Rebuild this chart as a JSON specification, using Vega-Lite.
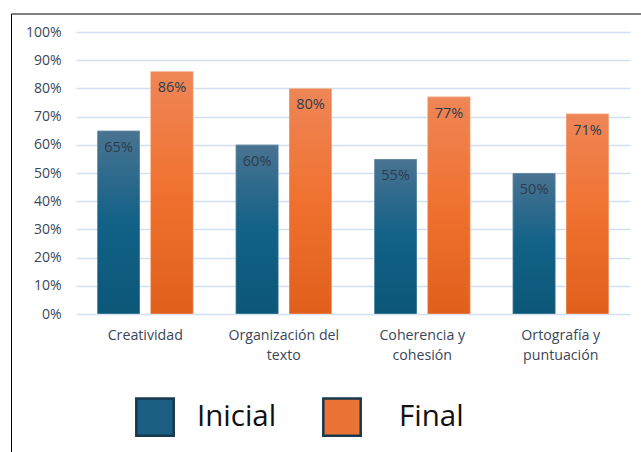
{
  "$schema": "https://vega.github.io/schema/vega-lite/v6.json",
  "width": 554,
  "height": 282,
  "autosize": "none",
  "padding": {"left": 76, "top": 32, "right": 11, "bottom": 138},
  "background": "white",
  "config": {
    "view": {"stroke": null},
    "font": "Open Sans"
  },
  "data": {
    "values": [
      {"criterio": "Creatividad", "momento": "Inicial", "valor": 0.65},
      {"criterio": "Creatividad", "momento": "Final", "valor": 0.86},
      {"criterio": "Organización del texto", "momento": "Inicial", "valor": 0.60},
      {"criterio": "Organización del texto", "momento": "Final", "valor": 0.80},
      {"criterio": "Coherencia y cohesión", "momento": "Inicial", "valor": 0.55},
      {"criterio": "Coherencia y cohesión", "momento": "Final", "valor": 0.77},
      {"criterio": "Ortografía y puntuación", "momento": "Inicial", "valor": 0.50},
      {"criterio": "Ortografía y puntuación", "momento": "Final", "valor": 0.71}
    ]
  },
  "encoding": {
    "x": {
      "field": "criterio",
      "type": "nominal",
      "sort": null,
      "scale": {"paddingInner": 0.307, "paddingOuter": 0.1535},
      "axis": {
        "title": null,
        "labelAngle": 0,
        "labelFont": "Open Sans",
        "labelFontSize": 14.2,
        "labelColor": "#3a4658",
        "labelPadding": 14,
        "labelLineHeight": 20.5,
        "ticks": false,
        "domain": false,
        "grid": false,
        "labelExpr": "lastindexof(datum.label, ' ') > 0 ? [substring(datum.label, 0, lastindexof(datum.label, ' ')), substring(datum.label, lastindexof(datum.label, ' ') + 1)] : datum.label"
      }
    },
    "xOffset": {
      "field": "momento",
      "type": "nominal",
      "sort": ["Inicial", "Final"],
      "scale": {"paddingInner": 0.2, "paddingOuter": 0}
    },
    "y": {
      "field": "valor",
      "type": "quantitative",
      "scale": {"domain": [0, 1], "nice": false},
      "axis": {
        "title": null,
        "format": ".0%",
        "values": [0, 0.1, 0.2, 0.3, 0.4, 0.5, 0.6, 0.7, 0.8, 0.9, 1],
        "labelFont": "Open Sans",
        "labelFontSize": 14,
        "labelColor": "#3a4658",
        "labelPadding": 15,
        "ticks": false,
        "domain": false,
        "gridColor": "#d0e0f1",
        "gridWidth": 1.5
      }
    }
  },
  "layer": [
    {
      "mark": {"type": "bar"},
      "encoding": {
        "color": {
          "field": "momento",
          "type": "nominal",
          "scale": {"domain": ["Inicial", "Final"], "range": ["#1b5f83", "#ea7234"]},
          "legend": {
            "orient": "none",
            "legendX": 59,
            "legendY": 365,
            "direction": "horizontal",
            "title": null,
            "padding": 0,
            "symbolType": "square",
            "symbolSize": 1400,
            "symbolStrokeColor": "#17394f",
            "symbolStrokeWidth": 2.5,
            "labelFont": "Open Sans",
            "labelFontSize": 29.5,
            "labelColor": "#111111",
            "labelOffset": 22,
            "columnPadding": 41,
            "encode": {
              "symbols": {"update": {"stroke": {"value": "#17394f"}, "strokeWidth": {"value": 2.5}}},
              "labels": {"update": {"dx": {"signal": "datum.label === 'Final' ? 15 : 0"}}}
            }
          }
        }
      }
    },
    {
      "transform": [{"filter": "datum.momento === 'Inicial'"}],
      "mark": {
        "type": "bar",
        "fill": {
          "gradient": "linear", "x1": 0, "y1": 0, "x2": 0, "y2": 1,
          "stops": [
            {"offset": 0, "color": "#4a7391"},
            {"offset": 0.5, "color": "#126187"},
            {"offset": 1, "color": "#0c5778"}
          ]
        },
        "stroke": "#ffffff",
        "strokeOpacity": 0.35,
        "strokeWidth": 1
      }
    },
    {
      "transform": [{"filter": "datum.momento === 'Final'"}],
      "mark": {
        "type": "bar",
        "fill": {
          "gradient": "linear", "x1": 0, "y1": 0, "x2": 0, "y2": 1,
          "stops": [
            {"offset": 0, "color": "#ee8657"},
            {"offset": 0.5, "color": "#f0712f"},
            {"offset": 1, "color": "#e05f1b"}
          ]
        },
        "stroke": "#ffffff",
        "strokeOpacity": 0.35,
        "strokeWidth": 1
      }
    },
    {
      "mark": {
        "type": "text",
        "dy": 17,
        "baseline": "middle",
        "font": "Open Sans",
        "fontSize": 14.5,
        "color": "#2d3b4c"
      },
      "encoding": {
        "text": {"field": "valor", "type": "quantitative", "format": ".0%"}
      }
    },
    {
      "mark": {"type": "point", "opacity": 0},
      "encoding": {
        "shape": {
          "datum": "marco",
          "legend": {
            "orient": "none",
            "legendX": -65,
            "legendY": -18.5,
            "padding": 340,
            "strokeColor": "#000000",
            "title": null,
            "symbolOpacity": 0,
            "symbolSize": 1,
            "labelOpacity": 0,
            "labelExpr": "''",
            "encode": {
              "legend": {"update": {"stroke": {"value": "#000000"}, "strokeWidth": {"value": 3}}}
            }
          }
        }
      }
    }
  ]
}
